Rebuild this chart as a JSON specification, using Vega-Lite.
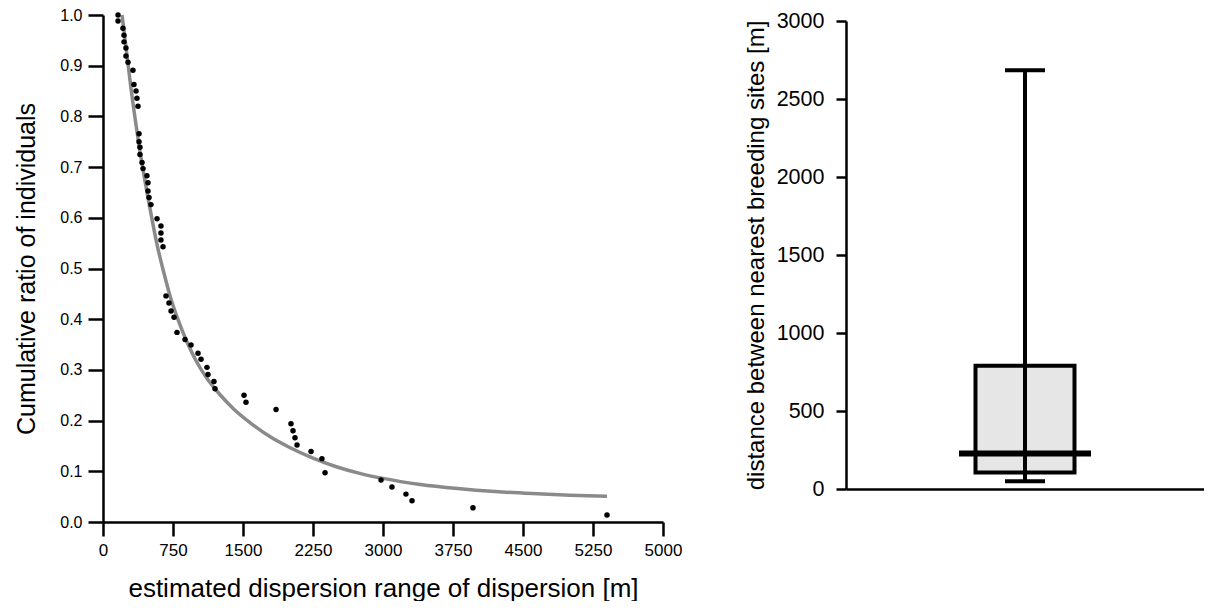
{
  "$schema": "https://vega.github.io/schema/vega-lite/v6.json",
  "autosize": {"type": "pad"},
  "padding": {"left": 14, "top": 7, "right": 0, "bottom": 0},
  "background": "white",
  "spacing": 62,
  "config": {
    "view": {"stroke": null},
    "axis": {
      "grid": false,
      "domainColor": "black",
      "tickColor": "black",
      "labelColor": "black",
      "titleColor": "black",
      "labelFont": "Liberation Sans",
      "titleFont": "Liberation Sans",
      "titleFontWeight": "normal",
      "domainWidth": 2.5,
      "tickWidth": 2.5
    }
  },
  "datasets": {
    "points": [
      {"x": 161, "y": 1.0}, {"x": 161, "y": 0.988}, {"x": 214, "y": 0.974}, {"x": 225, "y": 0.96},
      {"x": 225, "y": 0.947}, {"x": 246, "y": 0.935}, {"x": 246, "y": 0.919}, {"x": 268, "y": 0.907},
      {"x": 321, "y": 0.891}, {"x": 332, "y": 0.863}, {"x": 354, "y": 0.85}, {"x": 364, "y": 0.836},
      {"x": 375, "y": 0.82}, {"x": 386, "y": 0.766}, {"x": 386, "y": 0.75}, {"x": 396, "y": 0.739},
      {"x": 396, "y": 0.725}, {"x": 418, "y": 0.709}, {"x": 429, "y": 0.697}, {"x": 471, "y": 0.683},
      {"x": 482, "y": 0.669}, {"x": 482, "y": 0.653}, {"x": 493, "y": 0.64}, {"x": 514, "y": 0.626},
      {"x": 579, "y": 0.598}, {"x": 621, "y": 0.584}, {"x": 621, "y": 0.57}, {"x": 621, "y": 0.556},
      {"x": 643, "y": 0.543}, {"x": 675, "y": 0.446}, {"x": 707, "y": 0.432}, {"x": 729, "y": 0.416},
      {"x": 761, "y": 0.404}, {"x": 793, "y": 0.374}, {"x": 879, "y": 0.36}, {"x": 943, "y": 0.349},
      {"x": 1018, "y": 0.333}, {"x": 1050, "y": 0.321}, {"x": 1114, "y": 0.305}, {"x": 1125, "y": 0.291},
      {"x": 1189, "y": 0.277}, {"x": 1200, "y": 0.263}, {"x": 1511, "y": 0.25}, {"x": 1532, "y": 0.236},
      {"x": 1854, "y": 0.222}, {"x": 2014, "y": 0.194}, {"x": 2036, "y": 0.18}, {"x": 2057, "y": 0.166},
      {"x": 2079, "y": 0.152}, {"x": 2229, "y": 0.139}, {"x": 2346, "y": 0.125}, {"x": 2379, "y": 0.097},
      {"x": 2979, "y": 0.083}, {"x": 3096, "y": 0.069}, {"x": 3246, "y": 0.055}, {"x": 3311, "y": 0.042},
      {"x": 3964, "y": 0.028}, {"x": 5400, "y": 0.014}
    ],
    "curve": [
      {"x": 204, "y": 1.0}, {"x": 300, "y": 0.855}, {"x": 400, "y": 0.727}, {"x": 500, "y": 0.622},
      {"x": 579, "y": 0.547}, {"x": 650, "y": 0.493}, {"x": 720, "y": 0.445}, {"x": 800, "y": 0.401},
      {"x": 900, "y": 0.355}, {"x": 1000, "y": 0.317}, {"x": 1100, "y": 0.287}, {"x": 1250, "y": 0.252},
      {"x": 1400, "y": 0.223}, {"x": 1575, "y": 0.196}, {"x": 1800, "y": 0.167}, {"x": 2000, "y": 0.147},
      {"x": 2250, "y": 0.126}, {"x": 2500, "y": 0.109}, {"x": 2750, "y": 0.096}, {"x": 3000, "y": 0.086},
      {"x": 3400, "y": 0.074}, {"x": 3800, "y": 0.066}, {"x": 4200, "y": 0.06}, {"x": 4600, "y": 0.056},
      {"x": 5000, "y": 0.053}, {"x": 5400, "y": 0.051}
    ],
    "box": [
      {"group": "all", "min": 50, "q1": 105, "median": 228, "q3": 790, "max": 2685}
    ]
  },
  "hconcat": [
    {
      "width": 560,
      "height": 507,
      "layer": [
        {
          "data": {"name": "curve"},
          "mark": {"type": "line", "color": "#8a8a8a", "strokeWidth": 3.5, "interpolate": "monotone"},
          "encoding": {
            "x": {
              "field": "x", "type": "quantitative",
              "scale": {"domain": [0, 6000], "nice": false, "zero": false},
              "axis": {
                "values": [0, 750, 1500, 2250, 3000, 3750, 4500, 5250, 6000],
                "labelExpr": "datum.value == 6000 ? '5000' : format(datum.value, 'd')",
                "tickSize": 14, "labelPadding": 6, "labelFontSize": 17,
                "titleFontSize": 26, "titlePadding": 17, "labelFlush": false, "labelOverlap": false
              },
              "title": "estimated dispersion range of dispersion [m]"
            },
            "y": {
              "field": "y", "type": "quantitative",
              "scale": {"domain": [0, 1], "nice": false, "zero": false},
              "axis": {
                "values": [0, 0.1, 0.2, 0.3, 0.4, 0.5, 0.6, 0.7, 0.8, 0.9, 1.0],
                "format": ".1f",
                "tickSize": 15, "labelPadding": 6, "labelFontSize": 16,
                "titleFontSize": 25, "titlePadding": 20, "labelFlush": false, "labelOverlap": false
              },
              "title": "Cumulative ratio of individuals"
            }
          }
        },
        {
          "data": {"name": "points"},
          "mark": {"type": "point", "filled": true, "shape": "circle", "size": 30, "color": "black", "opacity": 1},
          "encoding": {
            "x": {"field": "x", "type": "quantitative"},
            "y": {"field": "y", "type": "quantitative"}
          }
        }
      ]
    },
    {
      "width": 358,
      "height": 474,
      "data": {"name": "box"},
      "encoding": {
        "x": {
          "field": "group", "type": "nominal",
          "scale": {"paddingInner": 0, "paddingOuter": 0},
          "axis": {"ticks": false, "labels": false, "title": null, "domainWidth": 2.5}
        }
      },
      "layer": [
        {
          "mark": {"type": "bar", "fill": "#e6e6e6", "stroke": "black", "strokeWidth": 4, "size": 99},
          "encoding": {
            "y": {
              "field": "q1", "type": "quantitative",
              "scale": {"domain": [0, 3000], "nice": false, "range": [474, 6]},
              "axis": {
                "values": [0, 500, 1000, 1500, 2000, 2500, 3000],
                "format": "d",
                "tickSize": 10, "labelPadding": 12, "labelFontSize": 21.5,
                "titleFontSize": 24, "titlePadding": 8, "labelFlush": false
              },
              "title": "distance between nearest breeding sites [m]"
            },
            "y2": {"field": "q3"}
          }
        },
        {
          "mark": {"type": "rule", "strokeWidth": 4, "color": "black"},
          "encoding": {
            "y": {"field": "min", "type": "quantitative"},
            "y2": {"field": "max"}
          }
        },
        {
          "mark": {"type": "tick", "orient": "horizontal", "size": 40, "thickness": 4, "color": "black", "opacity": 1},
          "encoding": {"y": {"field": "min", "type": "quantitative"}}
        },
        {
          "mark": {"type": "tick", "orient": "horizontal", "size": 40, "thickness": 4, "color": "black", "opacity": 1},
          "encoding": {"y": {"field": "max", "type": "quantitative"}}
        },
        {
          "mark": {"type": "tick", "orient": "horizontal", "size": 132, "thickness": 6, "color": "black", "opacity": 1},
          "encoding": {"y": {"field": "median", "type": "quantitative"}}
        }
      ]
    }
  ]
}
